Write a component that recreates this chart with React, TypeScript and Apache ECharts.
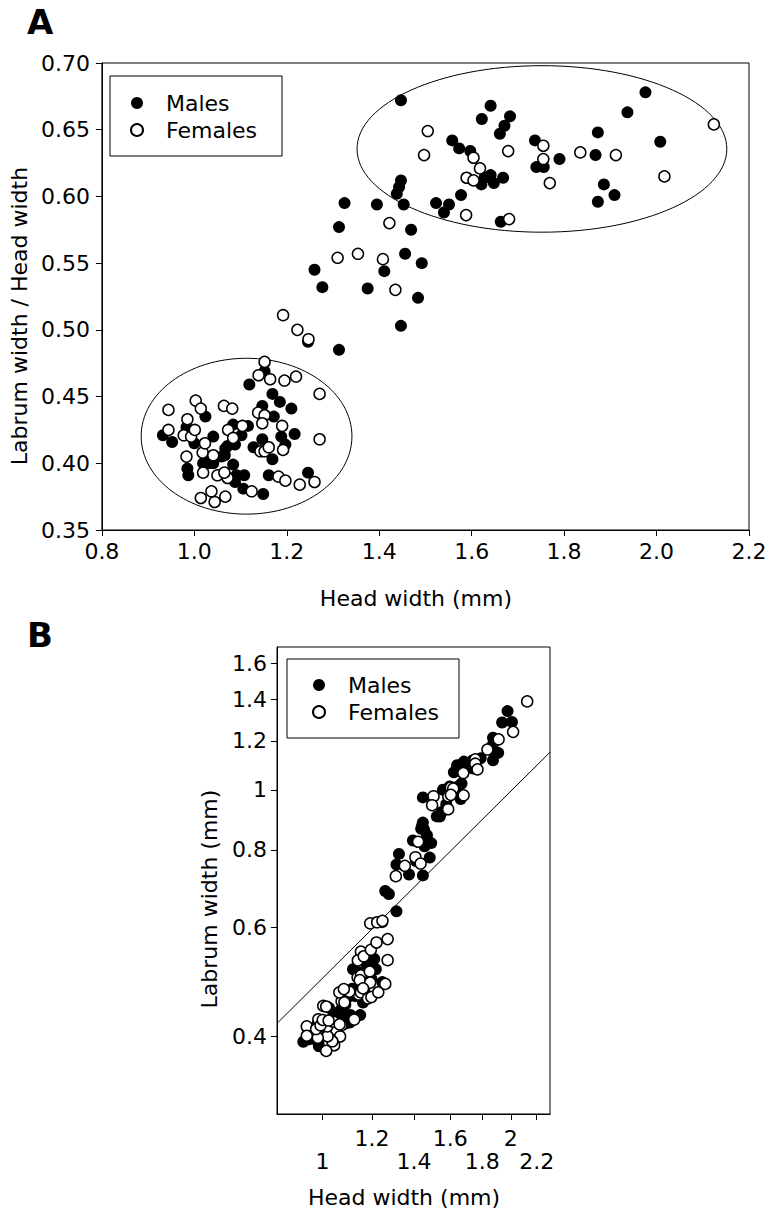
import React, { useEffect, useRef } from 'react';
import * as echarts from 'echarts';

// Panel A data: [head width (mm), labrum width / head width]
const MALES: number[][] = [
  [1.447, 0.672], [1.641, 0.668], [1.622, 0.658], [1.683, 0.660], [1.671, 0.653],
  [1.661, 0.647], [1.558, 0.642], [1.573, 0.636], [1.597, 0.634], [1.737, 0.642],
  [1.740, 0.622], [1.756, 0.622], [1.641, 0.616], [1.628, 0.614], [1.668, 0.614],
  [1.648, 0.610], [1.621, 0.609], [1.447, 0.612], [1.443, 0.607], [1.438, 0.602],
  [1.453, 0.594], [1.325, 0.595], [1.395, 0.594], [1.577, 0.601], [1.523, 0.595],
  [1.551, 0.594], [1.540, 0.588], [1.663, 0.581], [1.469, 0.575], [1.313, 0.577],
  [1.976, 0.678], [1.937, 0.663], [1.873, 0.648], [2.008, 0.641], [1.868, 0.631],
  [1.790, 0.628], [1.886, 0.609], [1.909, 0.601], [1.873, 0.596],
  [1.456, 0.557], [1.492, 0.550], [1.260, 0.545], [1.411, 0.544], [1.277, 0.532],
  [1.375, 0.531], [1.484, 0.524], [1.447, 0.503], [1.313, 0.485], [1.246, 0.491],
  [1.152, 0.469], [1.119, 0.459], [1.169, 0.452], [1.185, 0.446], [1.210, 0.441],
  [1.147, 0.443], [1.172, 0.435], [1.217, 0.422], [1.188, 0.420], [1.197, 0.414],
  [1.147, 0.418], [1.128, 0.412], [1.169, 0.403], [1.161, 0.391], [1.246, 0.393],
  [1.149, 0.377], [1.106, 0.381], [1.108, 0.391], [1.088, 0.386], [1.084, 0.399],
  [0.987, 0.391], [0.985, 0.396], [1.019, 0.400], [1.030, 0.400], [1.041, 0.400],
  [1.059, 0.405], [1.067, 0.411], [1.084, 0.429], [1.102, 0.421], [1.116, 0.428],
  [1.088, 0.414], [1.024, 0.435], [0.932, 0.421], [0.952, 0.416], [1.000, 0.415],
  [1.041, 0.420], [1.028, 0.403], [0.983, 0.427], [1.072, 0.413], [1.066, 0.406],
  [1.091, 0.391],
];

const FEMALES: number[][] = [
  [1.505, 0.649], [1.497, 0.631], [1.679, 0.634], [1.604, 0.629], [1.618, 0.621],
  [1.589, 0.614], [1.604, 0.612], [1.755, 0.638], [1.755, 0.628], [1.769, 0.610],
  [1.588, 0.586], [1.681, 0.583], [1.422, 0.580], [2.124, 0.654], [1.835, 0.633],
  [1.912, 0.631], [2.017, 0.615],
  [1.310, 0.554], [1.354, 0.557], [1.408, 0.553], [1.435, 0.530], [1.192, 0.511],
  [1.223, 0.500], [1.247, 0.493],
  [1.152, 0.476], [1.139, 0.466], [1.164, 0.463], [1.195, 0.462], [1.220, 0.465],
  [1.271, 0.452], [1.138, 0.438], [1.152, 0.436], [1.147, 0.430], [1.190, 0.428],
  [1.271, 0.418], [1.192, 0.410], [1.143, 0.409], [1.152, 0.409], [1.161, 0.412],
  [1.182, 0.390], [1.197, 0.387], [1.228, 0.384], [1.260, 0.386], [1.124, 0.379],
  [1.072, 0.389], [1.050, 0.391], [1.067, 0.375], [1.044, 0.371], [1.037, 0.379],
  [1.014, 0.374], [1.019, 0.393], [0.983, 0.405], [1.018, 0.408], [1.041, 0.406],
  [1.073, 0.425], [1.104, 0.428], [1.084, 0.419], [1.064, 0.443], [1.082, 0.441],
  [1.003, 0.447], [1.014, 0.441], [0.985, 0.433], [0.944, 0.440], [0.944, 0.425],
  [0.977, 0.421], [0.993, 0.420], [1.001, 0.425], [1.023, 0.415], [1.065, 0.393],
];

// Ellipses around clusters in panel A: [centre x, centre y, radius x, radius y]
const ELLIPSES: number[][] = [
  [1.752, 0.6356, 0.400, 0.0624],
  [1.113, 0.4203, 0.228, 0.0584],
];

// Panel B reference line (log-log)
const ISO_LINE: number[][] = [[0.846, 0.42], [2.31, 1.15]];

const B_X_TICKS = [1, 1.2, 1.4, 1.6, 1.8, 2, 2.2];
const B_X_LOWER_ROW = [1, 1.4, 1.8, 2.2];
const B_Y_TICKS = [0.4, 0.6, 0.8, 1, 1.2, 1.4, 1.6];

const FONT = 'DejaVu Sans';

export default function App() {
  const ref = useRef<HTMLDivElement>(null);

  useEffect(() => {
    if (!ref.current) return;
    const chart = echarts.init(ref.current, undefined, { renderer: 'svg' });
    const txt = { fontFamily: FONT, fontSize: 22, color: '#000' };
    const round1 = (v: number) => Math.round(v * 10) / 10;
    const axisLine = { show: true, onZero: false, lineStyle: { color: '#000', width: 1 } };
    const axisTick = { show: true, inside: false, length: 6, lineStyle: { color: '#000', width: 1 } };

    const bMales = MALES.map(([h, r]) => [h, h * r]);
    const bFemales = FEMALES.map(([h, r]) => [h, h * r]);

    const maleStyle = { color: '#000', opacity: 1 };
    const femaleStyle = { color: '#fff', borderColor: '#000', borderWidth: 1.5, opacity: 1 };

    const legendCommon = {
      orient: 'vertical',
      data: ['Males', 'Females'],
      borderColor: '#000',
      borderWidth: 1,
      borderRadius: 0,
      itemWidth: 48,
      itemHeight: 12,
      itemGap: 3,
      selectedMode: false,
      textStyle: { ...txt, lineHeight: 24 },
    };

    const option: any = {
      animation: false,
      backgroundColor: '#fff',
      textStyle: { fontFamily: FONT },
      grid: [
        { left: 100, top: 63, width: 649, height: 467, show: true, borderColor: '#000', borderWidth: 1, backgroundColor: 'transparent' },
        { left: 277, top: 647, width: 273, height: 467, show: true, borderColor: '#000', borderWidth: 1, backgroundColor: 'transparent' },
      ],
      xAxis: [
        {
          gridIndex: 0, type: 'value', min: 0.8, max: 2.2, interval: 0.2,
          name: 'Head width (mm)', nameLocation: 'middle', nameGap: 57,
          nameTextStyle: { ...txt, padding: [0, 19, 0, 0] },
          axisLine, axisTick,
          axisLabel: { ...txt, margin: 10, formatter: (v: number) => v.toFixed(1) },
          splitLine: { show: false },
        },
        {
          gridIndex: 1, type: 'log', logBase: 10, min: 0.846, max: 2.31,
          name: 'Head width (mm)', nameLocation: 'middle', nameGap: 72,
          nameTextStyle: { ...txt, padding: [0, 19, 0, 0] },
          axisLine,
          axisTick: { ...axisTick, customValues: B_X_TICKS },
          minorTick: { show: false },
          axisLabel: {
            ...txt, lineHeight: 23, margin: 13, customValues: B_X_TICKS,
            formatter: (v: number) => {
              const r = round1(v);
              return (B_X_LOWER_ROW.some((t) => Math.abs(t - r) < 1e-6) ? '\n' : '') + String(r);
            },
          },
          splitLine: { show: false },
        },
      ],
      yAxis: [
        {
          gridIndex: 0, type: 'value', min: 0.35, max: 0.70, interval: 0.05,
          name: 'Labrum width / Head width', nameLocation: 'middle', nameGap: 66,
          nameTextStyle: { ...txt, padding: [0, 39, 0, 0] },
          axisLine, axisTick,
          axisLabel: { ...txt, margin: 12, formatter: (v: number) => v.toFixed(2) },
          splitLine: { show: false },
        },
        {
          gridIndex: 1, type: 'log', logBase: 10, min: 0.3, max: 1.7,
          name: 'Labrum width (mm)', nameLocation: 'middle', nameGap: 57,
          nameTextStyle: { ...txt, padding: [0, 37, 0, 0] },
          axisLine,
          axisTick: { ...axisTick, customValues: B_Y_TICKS },
          minorTick: { show: false },
          axisLabel: { ...txt, margin: 10, customValues: B_Y_TICKS, formatter: (v: number) => String(round1(v)) },
          splitLine: { show: false },
        },
      ],
      legend: [
        { ...legendCommon, left: 110, top: 76, padding: [15, 25, 14, 20] },
        { ...legendCommon, left: 287, top: 659, padding: [14, 20, 14, 25] },
      ],
      series: [
        {
          type: 'custom', xAxisIndex: 0, yAxisIndex: 0, silent: true, z: 1,
          data: ELLIPSES,
          encode: { x: 0, y: 1 },
          renderItem: (_params: any, api: any) => {
            const c = api.coord([api.value(0), api.value(1)]);
            const s = api.size([api.value(2), api.value(3)]);
            return {
              type: 'ellipse',
              shape: { cx: c[0], cy: c[1], rx: s[0], ry: s[1] },
              style: { fill: 'none', stroke: '#000', lineWidth: 1 },
            };
          },
        },
        {
          type: 'scatter', name: 'Males', xAxisIndex: 0, yAxisIndex: 0, data: MALES,
          symbol: 'circle', symbolSize: 12, itemStyle: maleStyle, z: 3,
        },
        {
          type: 'scatter', name: 'Females', xAxisIndex: 0, yAxisIndex: 0, data: FEMALES,
          symbol: 'circle', symbolSize: 11, itemStyle: femaleStyle, z: 4,
        },
        {
          type: 'line', xAxisIndex: 1, yAxisIndex: 1, data: ISO_LINE, symbol: 'none', silent: true, z: 1,
          lineStyle: { color: '#000', width: 1 },
        },
        {
          type: 'scatter', name: 'Males', xAxisIndex: 1, yAxisIndex: 1, data: bMales,
          symbol: 'circle', symbolSize: 12, itemStyle: maleStyle, z: 3,
        },
        {
          type: 'scatter', name: 'Females', xAxisIndex: 1, yAxisIndex: 1, data: bFemales,
          symbol: 'circle', symbolSize: 11, itemStyle: femaleStyle, z: 4,
        },
      ],
      graphic: [
        { type: 'text', x: 27, y: 22, style: { text: 'A', fontFamily: FONT, fontSize: 34, fontWeight: 'bold', fill: '#000', verticalAlign: 'middle' } },
        { type: 'text', x: 27, y: 635, style: { text: 'B', fontFamily: FONT, fontSize: 34, fontWeight: 'bold', fill: '#000', verticalAlign: 'middle' } },
      ],
    };

    chart.setOption(option);
    return () => chart.dispose();
  }, []);

  return <div ref={ref} style={{ position: 'absolute', left: 0, top: 0, width: 773, height: 1217 }} />;
}
